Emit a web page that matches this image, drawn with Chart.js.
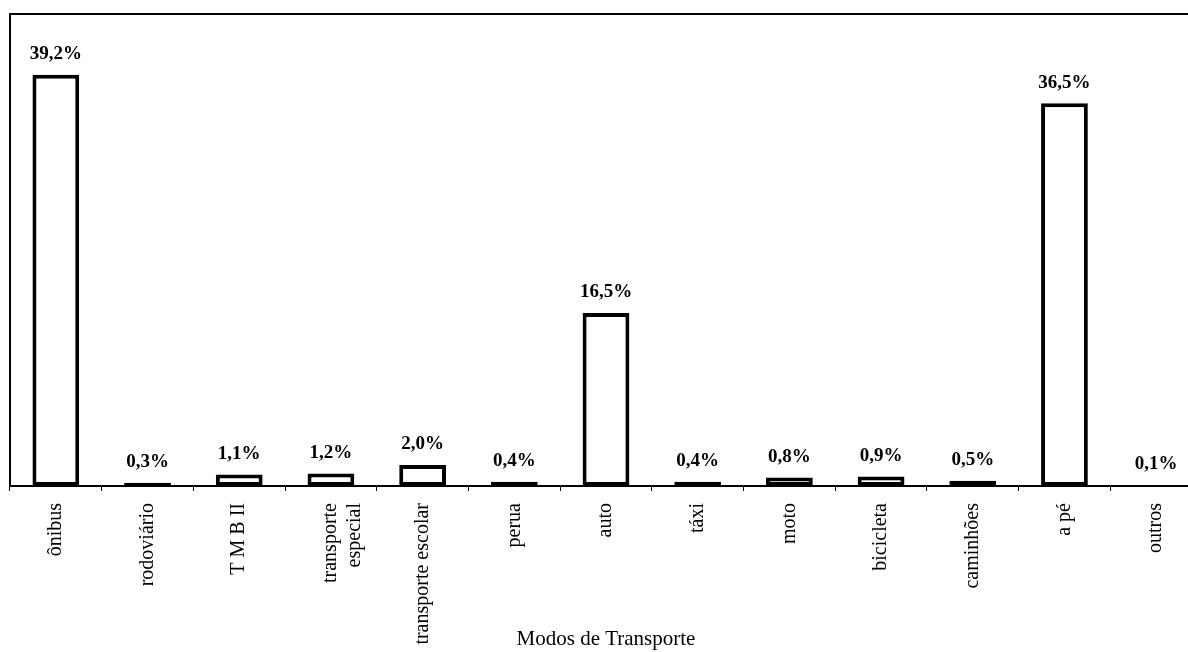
<!DOCTYPE html>
<html>
<head>
<meta charset="utf-8">
<script src="https://cdn.jsdelivr.net/npm/chart.js@4.4.1/dist/chart.umd.min.js"></script>
<style>
  html, body { margin: 0; padding: 0; background: #fff; overflow: hidden; }
  #wrap { position: absolute; left: 0; top: 0; width: 1212px; height: 652px; }
</style>
</head>
<body>
<div id="wrap"><canvas id="c" width="1212" height="652"></canvas></div>
<script>
const categories = ["ônibus", "rodoviário", "T M B II", ["transporte", "especial"], "transporte escolar", "perua", "auto", "táxi", "moto", "bicicleta", "caminhões", "a pé", "outros"];
const shares = [39.2, 0.3, 1.1, 1.2, 2.0, 0.4, 16.5, 0.4, 0.8, 0.9, 0.5, 36.5, 0.1];
const yMax = 45;
const axisTitle = "Modos de Transporte";

const serif = "'Liberation Serif', 'Times New Roman', serif";

const frame = {
  id: 'frame',
  beforeDatasetsDraw(chart) {
    const a = chart.chartArea, ctx = chart.ctx;
    ctx.save();
    ctx.strokeStyle = '#000';
    ctx.lineWidth = 2;
    ctx.strokeRect(a.left, a.top, a.right - a.left, a.bottom - a.top);
    ctx.restore();
  }
};

const valueLabels = {
  id: 'valueLabels',
  afterDatasetsDraw(chart) {
    const ctx = chart.ctx;
    const meta = chart.getDatasetMeta(0);
    ctx.save();
    ctx.fillStyle = '#000';
    ctx.font = "bold 19px " + serif;
    ctx.textAlign = 'center';
    ctx.textBaseline = 'bottom';
    meta.data.forEach((bar, i) => {
      const txt = shares[i].toFixed(1).replace('.', ',') + '%';
      ctx.fillText(txt, bar.x, bar.y - 11);
    });
    ctx.restore();
  }
};

new Chart(document.getElementById('c'), {
  type: 'bar',
  data: {
    labels: categories,
    datasets: [{
      data: shares,
      backgroundColor: '#fff',
      borderColor: '#000',
      borderWidth: 4,
      borderSkipped: false,
      barPercentage: 0.51,
      categoryPercentage: 1.0
    }]
  },
  options: {
    responsive: false,
    animation: false,
    devicePixelRatio: 1,
    layout: { padding: { left: 10, right: 10, top: 14, bottom: 0 } },
    plugins: { legend: { display: false }, tooltip: { enabled: false }, title: { display: false } },
    scales: {
      y: { display: false, min: 0, max: yMax },
      x: {
        afterFit(scale) { scale.height = 166; },
        border: { display: false },
        grid: { offset: true, drawOnChartArea: false, drawTicks: true, tickLength: 5, color: '#000', lineWidth: 1 },
        ticks: {
          autoSkip: false, maxRotation: 90, minRotation: 90, padding: 12,
          color: '#000', font: { family: serif, size: 20 }
        },
        title: {
          display: true, text: axisTitle, color: '#000',
          font: { family: serif, size: 21 }, padding: { top: 0, bottom: 0 }
        }
      }
    }
  },
  plugins: [frame, valueLabels]
});
</script>
</body>
</html>
